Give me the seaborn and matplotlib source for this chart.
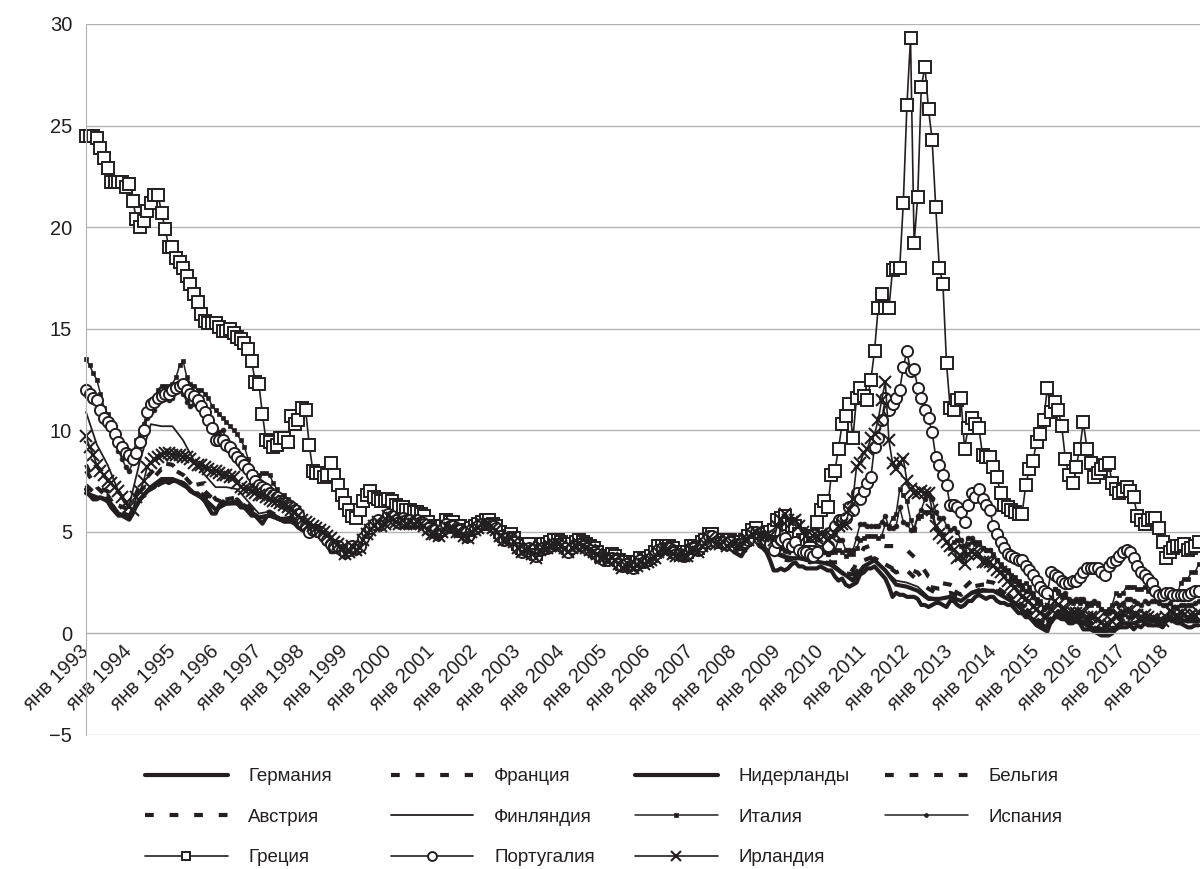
import matplotlib
matplotlib.use("Agg")
import matplotlib.pyplot as plt
import seaborn as sns
import numpy as np
import pandas as pd

sns.set_style("white")
plt.rcParams['font.family'] = ['Liberation Sans', 'DejaVu Sans']

INK = '#231f20'
GRID = '#b3b3b3'

# 10-year government bond yields, %, Jan 1993 .. Oct 2018
YEARS = list(range(1993, 2019))
TICK_LABELS = ['янв %d' % y for y in YEARS]

# monthly series (one row = one year)
germany = [
    7.1, 6.8, 6.6, 6.6, 6.7, 6.6, 6.5, 6.2, 6.0, 5.8, 5.8, 5.7,
    5.6, 5.9, 6.3, 6.6, 6.8, 7.0, 7.1, 7.2, 7.4, 7.5, 7.5, 7.4,
    7.5, 7.5, 7.4, 7.3, 7.2, 7.0, 6.9, 6.9, 6.7, 6.5, 6.2, 5.9,
    5.9, 6.3, 6.5, 6.4, 6.4, 6.5, 6.4, 6.2, 6.2, 6.0, 5.8, 5.8,
    5.6, 5.4, 5.7, 5.9, 5.8, 5.7, 5.6, 5.5, 5.5, 5.5, 5.4, 5.2,
    5.1, 5.0, 4.9, 4.9, 4.8, 4.8, 4.6, 4.4, 4.0, 4.0, 4.1, 3.9,
    3.7, 3.9, 4.1, 3.9, 4.0, 4.4, 4.7, 4.9, 5.1, 5.3, 5.1, 5.3,
    5.6, 5.5, 5.3, 5.2, 5.4, 5.2, 5.3, 5.2, 5.3, 5.2, 5.1, 4.9,
    4.8, 4.7, 4.6, 4.8, 5.1, 5.0, 5.0, 4.8, 4.8, 4.6, 4.5, 4.8,
    4.9, 5.0, 5.2, 5.2, 5.2, 5.0, 4.9, 4.6, 4.4, 4.5, 4.6, 4.4,
    4.1, 3.9, 4.0, 4.1, 3.8, 3.7, 4.0, 4.1, 4.1, 4.2, 4.3, 4.3,
    4.2, 4.1, 3.9, 4.1, 4.2, 4.3, 4.2, 4.1, 4.0, 3.9, 3.8, 3.6,
    3.6, 3.5, 3.7, 3.5, 3.3, 3.2, 3.3, 3.2, 3.1, 3.3, 3.5, 3.4,
    3.4, 3.5, 3.7, 4.0, 4.0, 4.0, 4.0, 3.9, 3.8, 3.8, 3.7, 3.8,
    4.1, 4.1, 4.0, 4.2, 4.3, 4.6, 4.6, 4.3, 4.3, 4.4, 4.1, 4.3,
    4.0, 3.9, 3.8, 4.1, 4.3, 4.6, 4.6, 4.3, 4.2, 4.0, 3.6, 3.1,
    3.1, 3.2, 3.1, 3.2, 3.4, 3.5, 3.3, 3.3, 3.2, 3.2, 3.2, 3.2,
    3.3, 3.2, 3.1, 3.1, 2.8, 2.6, 2.7, 2.4, 2.3, 2.4, 2.5, 2.9,
    3.0, 3.2, 3.2, 3.3, 3.1, 2.9, 2.7, 2.3, 1.8, 2.0, 1.9, 1.9,
    1.8, 1.8, 1.8, 1.7, 1.4, 1.4, 1.3, 1.4, 1.5, 1.5, 1.4, 1.3,
    1.6, 1.6, 1.4, 1.3, 1.4, 1.6, 1.6, 1.8, 1.9, 1.8, 1.7, 1.8,
    1.8, 1.6, 1.5, 1.5, 1.4, 1.4, 1.2, 1.0, 1.0, 0.8, 0.8, 0.6,
    0.4, 0.3, 0.2, 0.1, 0.6, 0.8, 0.8, 0.7, 0.7, 0.5, 0.5, 0.6,
    0.5, 0.2, 0.2, 0.2, 0.1, 0.0, -0.1, -0.1, -0.1, 0.0, 0.2, 0.3,
    0.3, 0.3, 0.4, 0.2, 0.4, 0.3, 0.5, 0.4, 0.4, 0.4, 0.4, 0.3,
    0.6, 0.7, 0.6, 0.5, 0.5, 0.4, 0.3, 0.3, 0.4, 0.4,
]

italy = [
    13.5, 13.2, 12.8, 12.5, 11.8, 11.1, 10.8, 10.3, 9.9, 9.4, 9.0, 8.8,
    8.6, 8.8, 9.5, 9.8, 10.3, 10.9, 11.5, 11.6, 12.0, 12.2, 12.2, 12.2,
    12.3, 12.6, 13.2, 13.4, 12.6, 12.3, 12.2, 12.0, 12.0, 11.8, 11.6, 11.2,
    11.0, 10.8, 10.6, 10.4, 10.2, 10.0, 9.8, 9.5, 9.2, 8.6, 8.1, 7.9,
    7.8, 7.9, 7.9, 7.8, 7.4, 7.1, 6.8, 6.8, 6.6, 6.3, 6.3, 6.0,
    5.7, 5.4, 5.1, 5.1, 5.1, 5.0, 4.9, 4.6, 4.4, 4.2, 4.3, 4.0,
    4.0, 4.1, 4.3, 4.2, 4.2, 4.6, 5.0, 5.2, 5.4, 5.6, 5.4, 5.6,
    5.9, 5.9, 5.7, 5.6, 5.8, 5.6, 5.7, 5.6, 5.6, 5.5, 5.4, 5.2,
    5.1, 5.1, 5.0, 5.2, 5.5, 5.4, 5.4, 5.2, 5.2, 5.0, 4.8, 5.1,
    5.2, 5.3, 5.5, 5.5, 5.5, 5.3, 5.2, 4.9, 4.7, 4.8, 4.8, 4.6,
    4.3, 4.1, 4.2, 4.3, 4.0, 3.9, 4.2, 4.3, 4.3, 4.4, 4.5, 4.5,
    4.4, 4.3, 4.1, 4.3, 4.5, 4.5, 4.5, 4.3, 4.2, 4.1, 4.0, 3.8,
    3.8, 3.7, 3.9, 3.8, 3.6, 3.5, 3.6, 3.5, 3.4, 3.5, 3.7, 3.6,
    3.7, 3.8, 4.0, 4.3, 4.3, 4.3, 4.3, 4.1, 4.0, 4.0, 3.9, 4.0,
    4.3, 4.3, 4.2, 4.4, 4.5, 4.8, 4.8, 4.6, 4.6, 4.6, 4.5, 4.6,
    4.6, 4.5, 4.5, 4.6, 4.8, 5.1, 5.2, 4.9, 4.9, 4.9, 4.9, 4.7,
    4.6, 4.6, 4.5, 4.4, 4.3, 4.5, 4.3, 4.1, 4.0, 4.0, 4.0, 4.0,
    4.1, 4.0, 3.9, 4.0, 4.0, 4.1, 4.0, 3.8, 3.9, 3.9, 4.2, 4.6,
    4.7, 4.8, 4.8, 4.8, 4.7, 4.8, 5.4, 5.3, 5.7, 5.9, 7.1, 6.8,
    6.5, 5.6, 5.1, 5.7, 5.8, 6.0, 6.0, 5.8, 5.2, 5.0, 4.9, 4.5,
    4.2, 4.5, 4.6, 4.3, 3.9, 4.4, 4.5, 4.4, 4.5, 4.2, 4.1, 4.1,
    3.9, 3.6, 3.4, 3.2, 3.1, 2.9, 2.8, 2.6, 2.4, 2.5, 2.3, 2.0,
    1.7, 1.6, 1.3, 1.4, 1.8, 2.2, 2.0, 1.8, 1.8, 1.6, 1.5, 1.6,
    1.5, 1.6, 1.4, 1.4, 1.5, 1.4, 1.2, 1.1, 1.2, 1.4, 2.0, 1.9,
    2.0, 2.3, 2.3, 2.3, 2.2, 2.2, 2.3, 2.1, 2.2, 2.1, 1.8, 1.9,
    2.0, 2.0, 1.9, 1.8, 2.5, 2.7, 2.7, 3.0, 3.0, 3.4,
]

spain = [
    12.2, 11.7, 11.5, 11.4, 11.3, 10.9, 10.5, 10.2, 9.6, 9.0, 8.6, 8.2,
    8.0, 8.4, 9.0, 9.5, 10.0, 10.6, 11.0, 11.0, 11.4, 11.6, 11.6, 11.5,
    11.6, 11.9, 12.0, 11.8, 11.4, 11.2, 11.3, 11.2, 11.3, 11.0, 10.6, 10.0,
    9.8, 9.9, 10.0, 9.5, 9.2, 9.2, 9.0, 8.8, 8.4, 7.8, 7.3, 7.0,
    6.9, 7.0, 7.3, 7.1, 6.9, 6.6, 6.4, 6.4, 6.3, 6.1, 6.0, 5.7,
    5.4, 5.2, 5.0, 5.1, 5.1, 5.0, 4.8, 4.6, 4.4, 4.4, 4.4, 4.1,
    4.0, 4.1, 4.4, 4.2, 4.3, 4.6, 5.0, 5.2, 5.4, 5.6, 5.4, 5.5,
    5.9, 5.8, 5.6, 5.5, 5.7, 5.5, 5.5, 5.4, 5.5, 5.4, 5.3, 5.1,
    5.0, 5.0, 4.9, 5.1, 5.4, 5.3, 5.3, 5.1, 5.1, 4.9, 4.8, 5.0,
    5.1, 5.2, 5.4, 5.4, 5.4, 5.3, 5.1, 4.8, 4.6, 4.7, 4.7, 4.5,
    4.2, 4.0, 4.1, 4.2, 3.9, 3.8, 4.1, 4.2, 4.2, 4.3, 4.4, 4.4,
    4.3, 4.2, 4.0, 4.2, 4.3, 4.4, 4.3, 4.2, 4.1, 4.0, 3.9, 3.7,
    3.6, 3.6, 3.7, 3.5, 3.4, 3.2, 3.3, 3.2, 3.2, 3.3, 3.5, 3.4,
    3.5, 3.6, 3.8, 4.0, 4.1, 4.1, 4.1, 3.9, 3.8, 3.8, 3.8, 3.8,
    4.1, 4.1, 4.0, 4.3, 4.4, 4.7, 4.7, 4.4, 4.4, 4.5, 4.3, 4.4,
    4.3, 4.2, 4.2, 4.3, 4.5, 4.9, 5.0, 4.7, 4.6, 4.5, 4.2, 3.9,
    4.1, 4.2, 4.1, 4.1, 4.2, 4.4, 4.0, 3.8, 3.8, 3.8, 3.8, 3.8,
    4.0, 4.0, 3.9, 4.0, 4.1, 4.6, 4.6, 4.1, 4.1, 4.1, 4.7, 5.4,
    5.4, 5.3, 5.3, 5.3, 5.3, 5.5, 5.8, 5.2, 5.2, 5.3, 6.2, 5.5,
    5.4, 5.1, 5.2, 5.8, 6.1, 6.6, 6.8, 6.6, 6.0, 5.7, 5.7, 5.3,
    5.1, 5.2, 5.0, 4.6, 4.3, 4.7, 4.7, 4.5, 4.4, 4.2, 4.1, 4.1,
    3.8, 3.6, 3.3, 3.1, 3.0, 2.7, 2.6, 2.4, 2.2, 2.1, 2.1, 1.8,
    1.5, 1.5, 1.2, 1.3, 1.8, 2.2, 2.1, 1.9, 2.0, 1.7, 1.6, 1.7,
    1.7, 1.7, 1.5, 1.5, 1.6, 1.5, 1.2, 1.0, 1.0, 1.1, 1.5, 1.4,
    1.5, 1.7, 1.7, 1.6, 1.5, 1.4, 1.6, 1.5, 1.6, 1.6, 1.5, 1.4,
    1.4, 1.5, 1.3, 1.3, 1.4, 1.4, 1.4, 1.4, 1.5, 1.6,
]

greece = [
    24.5, 24.5, 24.5, 24.4, 23.9, 23.4, 22.9, 22.2, 22.2, 22.2, 22.2, 22.0,
    22.1, 21.3, 20.4, 20.0, 20.3, 20.8, 21.2, 21.6, 21.6, 20.7, 19.9, 19.0,
    19.0, 18.5, 18.3, 18.0, 17.6, 17.2, 16.7, 16.3, 15.7, 15.4, 15.3, 15.3,
    15.3, 15.1, 14.9, 14.9, 15.0, 14.8, 14.6, 14.5, 14.3, 14.0, 13.4, 12.4,
    12.3, 10.8, 9.5, 9.4, 9.2, 9.3, 9.6, 9.6, 9.4, 10.7, 10.3, 10.5,
    11.1, 11.0, 9.3, 8.0, 7.9, 7.9, 7.7, 7.8, 8.4, 7.8, 7.3, 6.8,
    6.4, 6.1, 5.8, 5.7, 6.1, 6.5, 6.8, 7.0, 6.7, 6.6, 6.5, 6.5,
    6.6, 6.5, 6.3, 6.2, 6.2, 6.1, 6.1, 6.0, 6.0, 5.9, 5.8, 5.5,
    5.3, 5.2, 5.1, 5.3, 5.6, 5.5, 5.5, 5.3, 5.3, 5.1, 5.0, 5.2,
    5.3, 5.4, 5.5, 5.6, 5.6, 5.4, 5.3, 5.0, 4.8, 4.8, 4.9, 4.7,
    4.4, 4.2, 4.3, 4.4, 4.1, 3.9, 4.2, 4.4, 4.4, 4.5, 4.6, 4.6,
    4.5, 4.4, 4.2, 4.4, 4.5, 4.6, 4.5, 4.4, 4.3, 4.2, 4.0, 3.8,
    3.8, 3.7, 3.9, 3.8, 3.6, 3.4, 3.5, 3.5, 3.4, 3.5, 3.7, 3.6,
    3.7, 3.8, 4.0, 4.3, 4.3, 4.3, 4.3, 4.2, 4.0, 4.0, 4.0, 4.0,
    4.3, 4.3, 4.2, 4.5, 4.6, 4.9, 4.9, 4.6, 4.6, 4.6, 4.5, 4.6,
    4.5, 4.5, 4.5, 4.6, 4.8, 5.1, 5.2, 4.9, 4.9, 4.9, 5.0, 5.1,
    5.6, 5.7, 5.8, 5.4, 5.3, 5.3, 4.9, 4.6, 4.6, 4.6, 4.8, 5.5,
    6.1, 6.5, 6.2, 7.8, 8.0, 9.1, 10.3, 10.7, 11.3, 9.6, 11.6, 12.1,
    11.7, 11.5, 12.5, 13.9, 16.0, 16.7, 16.0, 16.0, 17.9, 18.0, 18.0, 21.2,
    26.0, 29.3, 19.2, 21.5, 26.9, 27.9, 25.8, 24.3, 21.0, 18.0, 17.2, 13.3,
    11.1, 11.0, 11.5, 11.6, 9.1, 10.1, 10.6, 10.3, 10.1, 8.8, 8.7, 8.7,
    8.2, 7.7, 6.9, 6.3, 6.2, 6.1, 6.0, 5.9, 5.9, 7.3, 8.1, 8.5,
    9.4, 9.8, 10.5, 12.1, 10.9, 11.4, 11.0, 10.2, 8.6, 7.8, 7.4, 8.2,
    9.1, 10.4, 9.1, 8.4, 7.7, 7.9, 8.1, 8.3, 8.4, 7.4, 7.1, 6.9,
    7.0, 7.2, 7.0, 6.7, 5.8, 5.6, 5.4, 5.6, 5.7, 5.7, 5.2, 4.5,
    3.7, 4.0, 4.2, 4.3, 4.3, 4.4, 4.1, 4.2, 4.3, 4.5,
]

portugal = [
    12.0, 11.8, 11.6, 11.5, 11.0, 10.6, 10.4, 10.2, 9.8, 9.4, 9.2, 8.9,
    8.8, 8.6, 8.9, 9.4, 10.0, 10.9, 11.3, 11.4, 11.6, 11.7, 11.8, 11.8,
    12.0, 12.1, 12.2, 12.3, 12.0, 11.8, 11.7, 11.5, 11.2, 10.9, 10.5, 10.1,
    9.5, 9.5, 9.5, 9.3, 9.2, 8.9, 8.7, 8.5, 8.3, 8.1, 7.8, 7.5,
    7.3, 7.2, 7.1, 6.9, 6.8, 6.7, 6.5, 6.4, 6.3, 6.2, 6.1, 5.9,
    5.5, 5.3, 5.0, 5.1, 5.1, 5.0, 4.8, 4.6, 4.4, 4.3, 4.3, 4.1,
    4.0, 4.1, 4.3, 4.2, 4.3, 4.7, 5.0, 5.2, 5.4, 5.6, 5.4, 5.6,
    5.9, 5.8, 5.6, 5.5, 5.7, 5.6, 5.6, 5.5, 5.6, 5.5, 5.4, 5.2,
    5.1, 5.1, 5.0, 5.1, 5.4, 5.3, 5.3, 5.1, 5.1, 5.0, 4.8, 5.1,
    5.2, 5.3, 5.4, 5.4, 5.4, 5.3, 5.2, 4.8, 4.6, 4.7, 4.7, 4.5,
    4.2, 4.0, 4.1, 4.2, 3.9, 3.8, 4.1, 4.2, 4.2, 4.3, 4.4, 4.4,
    4.3, 4.2, 4.0, 4.2, 4.3, 4.4, 4.3, 4.2, 4.1, 4.0, 3.9, 3.7,
    3.6, 3.6, 3.7, 3.6, 3.4, 3.3, 3.4, 3.3, 3.2, 3.4, 3.6, 3.5,
    3.6, 3.7, 3.9, 4.1, 4.2, 4.2, 4.2, 4.0, 3.9, 3.9, 3.8, 3.9,
    4.2, 4.2, 4.1, 4.3, 4.5, 4.8, 4.8, 4.5, 4.5, 4.5, 4.4, 4.5,
    4.3, 4.4, 4.4, 4.5, 4.6, 5.0, 5.0, 4.7, 4.7, 4.6, 4.4, 4.1,
    4.5, 4.6, 4.7, 4.4, 4.3, 4.5, 4.1, 4.0, 4.0, 3.9, 3.8, 4.0,
    4.6, 4.7, 4.3, 5.0, 5.3, 5.6, 5.6, 5.7, 6.2, 6.1, 6.9, 6.6,
    7.0, 7.4, 7.7, 9.2, 9.6, 10.5, 11.6, 11.0, 11.3, 11.6, 12.0, 13.1,
    13.9, 12.9, 13.0, 12.1, 11.6, 11.0, 10.6, 9.9, 8.7, 8.3, 7.8, 7.3,
    6.3, 6.3, 6.2, 6.0, 5.5, 6.3, 6.9, 6.7, 7.1, 6.6, 6.3, 6.1,
    5.3, 4.9, 4.5, 4.2, 3.9, 3.8, 3.7, 3.6, 3.6, 3.3, 3.1, 2.9,
    2.6, 2.3, 2.1, 2.0, 3.0, 2.9, 2.8, 2.6, 2.5, 2.5, 2.6, 2.6,
    2.8, 3.0, 3.2, 3.2, 3.2, 3.2, 3.0, 2.9, 3.3, 3.5, 3.6, 3.8,
    4.0, 4.1, 4.0, 3.7, 3.3, 3.0, 2.9, 2.7, 2.5, 2.1, 1.9, 1.9,
    2.0, 2.0, 1.9, 1.9, 1.9, 1.9, 1.9, 2.0, 2.1, 2.1,
]

ireland = [
    9.7, 9.2, 8.8, 8.3, 8.0, 7.8, 7.5, 7.4, 7.2, 7.0, 6.7, 6.4,
    6.2, 6.1, 6.7, 7.0, 7.5, 8.2, 8.4, 8.6, 8.7, 8.8, 8.9, 8.9,
    8.8, 8.8, 8.8, 8.7, 8.7, 8.6, 8.4, 8.3, 8.3, 8.2, 8.1, 8.0,
    8.0, 7.9, 7.8, 7.8, 7.7, 7.7, 7.4, 7.2, 7.1, 7.1, 7.0, 6.9,
    6.8, 6.8, 6.7, 6.6, 6.5, 6.5, 6.4, 6.3, 6.2, 6.1, 6.0, 5.8,
    5.6, 5.5, 5.4, 5.3, 5.2, 5.1, 5.0, 4.8, 4.7, 4.5, 4.4, 4.2,
    3.9, 4.0, 4.3, 4.1, 4.2, 4.6, 4.9, 5.1, 5.3, 5.5, 5.3, 5.4,
    5.8, 5.7, 5.5, 5.4, 5.6, 5.4, 5.5, 5.4, 5.5, 5.4, 5.3, 5.1,
    4.9, 4.9, 4.8, 5.0, 5.3, 5.2, 5.2, 5.0, 5.0, 4.8, 4.7, 5.0,
    5.1, 5.2, 5.4, 5.4, 5.4, 5.2, 5.1, 4.8, 4.6, 4.6, 4.7, 4.5,
    4.2, 4.0, 4.1, 4.2, 3.9, 3.7, 4.1, 4.2, 4.2, 4.3, 4.4, 4.4,
    4.3, 4.2, 4.0, 4.2, 4.3, 4.4, 4.3, 4.2, 4.1, 4.0, 3.9, 3.7,
    3.7, 3.6, 3.7, 3.6, 3.4, 3.2, 3.3, 3.3, 3.2, 3.3, 3.5, 3.4,
    3.5, 3.6, 3.7, 4.0, 4.1, 4.1, 4.1, 3.9, 3.8, 3.8, 3.8, 3.8,
    4.1, 4.1, 4.0, 4.3, 4.4, 4.7, 4.6, 4.4, 4.4, 4.5, 4.3, 4.4,
    4.4, 4.3, 4.3, 4.6, 4.6, 4.9, 5.0, 4.8, 4.8, 4.8, 4.8, 4.6,
    5.3, 5.6, 5.9, 5.6, 5.5, 5.6, 5.3, 5.0, 4.8, 4.7, 4.8, 4.8,
    4.9, 4.8, 4.6, 4.8, 4.9, 5.3, 5.4, 5.4, 6.1, 6.6, 8.2, 8.4,
    8.9, 9.1, 9.6, 9.8, 10.5, 11.5, 12.4, 9.5, 8.4, 8.1, 8.4, 8.6,
    7.5, 7.1, 6.9, 6.9, 7.0, 6.9, 6.9, 6.1, 5.3, 4.9, 4.7, 4.5,
    4.3, 4.1, 3.7, 3.8, 3.4, 3.9, 4.0, 3.9, 3.9, 3.5, 3.5, 3.5,
    3.3, 3.1, 3.0, 2.8, 2.6, 2.4, 2.3, 2.0, 1.8, 1.7, 1.6, 1.3,
    1.2, 1.0, 0.8, 0.8, 1.2, 1.6, 1.4, 1.2, 1.2, 1.0, 1.0, 1.0,
    1.0, 1.0, 0.8, 0.8, 0.8, 0.7, 0.5, 0.4, 0.4, 0.6, 0.9, 0.9,
    1.0, 1.1, 1.1, 0.9, 0.9, 0.8, 0.9, 0.8, 0.7, 0.7, 0.6, 0.6,
    0.8, 1.1, 1.0, 0.9, 1.0, 0.9, 0.8, 0.9, 0.9, 1.0,
]

# quarterly series (Jan, Apr, Jul, Oct of each year)
france = [
    8.3, 7.2, 6.7, 5.8,  5.7, 7.0, 7.5, 8.1,  8.1, 7.8, 7.3, 7.4,
    6.6, 6.4, 6.6, 6.0,  5.7, 5.8, 5.6, 5.7,  5.1, 5.0, 4.8, 4.3,
    3.9, 4.1, 4.9, 5.5,  5.8, 5.4, 5.4, 5.4,  5.0, 5.1, 5.2, 4.8,
    5.0, 5.3, 5.0, 4.6,  4.2, 4.2, 4.1, 4.3,  4.3, 4.2, 4.3, 4.0,
    3.6, 3.5, 3.3, 3.4,  3.5, 4.0, 4.1, 3.8,  4.1, 4.3, 4.7, 4.5,
    4.2, 4.3, 4.8, 4.3,  3.7, 3.6, 3.7, 3.5,  3.6, 3.4, 3.0, 2.8,
    3.5, 3.7, 3.4, 3.0,  3.2, 3.0, 2.3, 2.2,  2.2, 1.9, 2.3, 2.4,
    2.4, 2.0, 1.6, 1.3,  0.7, 0.4, 1.1, 0.9,  0.9, 0.5, 0.2, 0.3,
    0.9, 0.9, 0.8, 0.8,  0.8, 0.8, 0.7, 0.8,
]
netherlands = [
    6.9, 6.7, 6.6, 5.9,  5.7, 6.6, 7.2, 7.6,  7.6, 7.4, 6.9, 6.6,
    6.1, 6.4, 6.4, 6.1,  5.7, 5.8, 5.6, 5.6,  5.1, 4.9, 4.7, 4.1,
    3.8, 4.0, 4.8, 5.4,  5.7, 5.3, 5.4, 5.3,  4.9, 4.9, 5.1, 4.7,
    5.0, 5.3, 5.0, 4.6,  4.2, 4.2, 4.1, 4.3,  4.3, 4.2, 4.3, 4.0,
    3.6, 3.5, 3.3, 3.3,  3.5, 4.0, 4.1, 3.8,  4.1, 4.3, 4.7, 4.5,
    4.2, 4.3, 4.7, 4.3,  3.9, 3.7, 3.7, 3.6,  3.5, 3.4, 3.0, 2.6,
    3.3, 3.6, 3.1, 2.4,  2.3, 2.1, 1.7, 1.7,  1.8, 1.6, 2.0, 2.1,
    2.1, 1.8, 1.5, 1.0,  0.5, 0.3, 1.0, 0.7,  0.6, 0.3, 0.0, 0.2,
    0.5, 0.5, 0.7, 0.6,  0.8, 0.7, 0.6, 0.6,
]
belgium = [
    8.0, 7.2, 7.0, 6.3,  6.1, 7.3, 7.9, 8.4,  8.3, 7.8, 7.2, 7.0,
    6.5, 6.6, 6.7, 6.3,  5.8, 6.0, 5.7, 5.8,  5.2, 5.0, 4.8, 4.4,
    4.0, 4.2, 5.0, 5.5,  5.8, 5.5, 5.5, 5.4,  5.1, 5.1, 5.3, 4.9,
    5.1, 5.4, 5.1, 4.7,  4.2, 4.2, 4.1, 4.3,  4.3, 4.2, 4.3, 4.0,
    3.6, 3.5, 3.3, 3.4,  3.6, 4.0, 4.1, 3.9,  4.2, 4.3, 4.7, 4.5,
    4.3, 4.4, 4.9, 4.6,  4.1, 4.0, 3.8, 3.6,  3.8, 3.5, 3.5, 3.1,
    4.2, 4.4, 4.3, 4.3,  4.1, 3.6, 2.8, 2.5,  2.4, 2.1, 2.6, 2.6,
    2.5, 2.1, 1.6, 1.2,  0.8, 0.5, 1.2, 0.9,  0.9, 0.5, 0.2, 0.2,
    0.8, 0.8, 0.8, 0.7,  0.8, 0.8, 0.8, 0.8,
]
austria = [
    7.3, 6.8, 6.8, 6.0,  5.8, 6.6, 7.1, 7.4,  7.6, 7.4, 7.0, 6.8,
    6.2, 6.4, 6.5, 6.2,  5.7, 5.8, 5.6, 5.7,  5.1, 4.9, 4.7, 4.2,
    3.9, 4.1, 4.9, 5.4,  5.8, 5.4, 5.5, 5.4,  5.0, 5.1, 5.2, 4.8,
    5.0, 5.3, 5.0, 4.6,  4.2, 4.2, 4.1, 4.3,  4.3, 4.2, 4.3, 4.0,
    3.6, 3.4, 3.3, 3.4,  3.5, 4.0, 4.1, 3.9,  4.2, 4.3, 4.7, 4.5,
    4.3, 4.3, 4.8, 4.5,  4.2, 4.1, 3.9, 3.6,  3.6, 3.4, 3.0, 2.9,
    3.6, 3.8, 3.4, 3.1,  3.1, 2.6, 2.2, 1.9,  2.0, 1.8, 2.0, 2.2,
    2.2, 1.8, 1.5, 1.0,  0.6, 0.3, 1.1, 0.8,  0.7, 0.4, 0.1, 0.2,
    0.6, 0.5, 0.7, 0.6,  0.7, 0.7, 0.6, 0.7,
]
finland = [
    10.9, 9.3, 8.3, 7.0,  6.3, 8.5, 10.3, 10.2,  10.2, 9.5, 8.5, 7.8,
    7.2, 7.2, 7.1, 6.5,  5.9, 6.0, 5.7, 5.7,  5.1, 5.0, 4.8, 4.3,
    3.9, 4.1, 4.9, 5.4,  5.7, 5.4, 5.4, 5.3,  4.9, 5.0, 5.2, 4.7,
    5.0, 5.3, 5.0, 4.6,  4.2, 4.2, 4.1, 4.3,  4.3, 4.2, 4.3, 4.0,
    3.6, 3.4, 3.3, 3.3,  3.5, 4.0, 4.1, 3.8,  4.1, 4.3, 4.7, 4.5,
    4.3, 4.3, 4.8, 4.3,  4.0, 3.8, 3.7, 3.5,  3.5, 3.3, 2.9, 2.7,
    3.3, 3.6, 3.1, 2.6,  2.5, 2.3, 1.8, 1.7,  1.8, 1.6, 2.0, 2.2,
    2.1, 1.8, 1.4, 1.0,  0.6, 0.3, 1.0, 0.8,  0.7, 0.4, 0.0, 0.2,
    0.5, 0.5, 0.7, 0.6,  0.7, 0.7, 0.6, 0.6,
]

DOTS = (0, (2.1, 3.8))

# name, values, step in months, style
SERIES = [
    ('Германия', germany, 1, dict(lw=3.0)),
    ('Франция', france, 3, dict(lw=3.0, ls=DOTS)),
    ('Нидерланды', netherlands, 3, dict(lw=3.0)),
    ('Бельгия', belgium, 3, dict(lw=3.0, ls=DOTS)),
    ('Австрия', austria, 3, dict(lw=3.0, ls=DOTS)),
    ('Финляндия', finland, 3, dict(lw=1.3)),
    ('Италия', italy, 1, dict(lw=1.1, marker='s', markersize=3.5,
                              markerfacecolor=INK, markeredgecolor=INK, markeredgewidth=0.5)),
    ('Испания', spain, 1, dict(lw=1.1, marker='o', markersize=3.5,
                               markerfacecolor=INK, markeredgecolor=INK, markeredgewidth=0.5)),
    ('Греция', greece, 1, dict(lw=1.2, marker='s', markersize=8,
                               markerfacecolor='white', markeredgecolor=INK, markeredgewidth=1.4)),
    ('Португалия', portugal, 1, dict(lw=1.2, marker='o', markersize=8,
                                     markerfacecolor='white', markeredgecolor=INK, markeredgewidth=1.4)),
    ('Ирландия', ireland, 1, dict(lw=1.2, marker='x', markersize=9,
                                  markeredgecolor=INK, markeredgewidth=1.5)),
]

fig = plt.figure(figsize=(12, 8.69), dpi=100)
ax = fig.add_axes([86 / 1200, (869 - 735) / 869, (1200 - 86) / 1200, (735 - 24) / 869])

# spine positions first: moving a spine resets the tick labels
for side in ['top', 'right']:
    ax.spines[side].set_visible(False)
ax.spines['left'].set_color(GRID)
ax.spines['bottom'].set_color(GRID)
ax.spines['bottom'].set_position(('data', 0))

handles = {}
for name, values, step, style in SERIES:
    df = pd.DataFrame({'month': np.arange(len(values)) * step, 'value': values})
    sns.lineplot(data=df, x='month', y='value', ax=ax, color=INK, estimator=None,
                 sort=False, clip_on=False, **style)
    handles[name] = ax.lines[-1]

ax.set_xlim(0, 309.4)
ax.set_ylim(-5, 30)
ax.set_xlabel('')
ax.set_ylabel('')

ax.set_yticks(range(-5, 31, 5))
ax.tick_params(axis='y', length=0, pad=10, labelsize=14.5, labelcolor=INK)
ax.yaxis.grid(True, color=GRID, lw=1)
ax.xaxis.grid(False)
ax.set_axisbelow(True)

ax.set_xticks(range(0, 310, 12))
ax.tick_params(axis='x', direction='out', length=6, width=1, color=GRID, pad=5)
ax.set_xticklabels(TICK_LABELS, fontsize=14.5, color=INK)
for lbl in ax.get_xticklabels():
    lbl.set_rotation(45)
    lbl.set_ha('right')
    lbl.set_va('center')
    lbl.set_rotation_mode('anchor')

if ax.get_legend() is not None:
    ax.get_legend().remove()

# legend: four columns laid out like the original
columns = [
    (145, ['Германия', 'Австрия', 'Греция']),
    (391, ['Франция', 'Финляндия', 'Португалия']),
    (635, ['Нидерланды', 'Италия', 'Ирландия']),
    (885, ['Бельгия', 'Испания']),
]
for x_px, names in columns:
    fig.legend([handles[n] for n in names], names, loc='upper left',
               bbox_to_anchor=(x_px / 1200, (869 - 768) / 869),
               frameon=False, fontsize=13.5, handlelength=4.4, handletextpad=1.1,
               labelspacing=1.25, borderpad=0, borderaxespad=0, numpoints=1,
               markerscale=0.8, labelcolor=INK)

fig.savefig('out.png', dpi=100)
